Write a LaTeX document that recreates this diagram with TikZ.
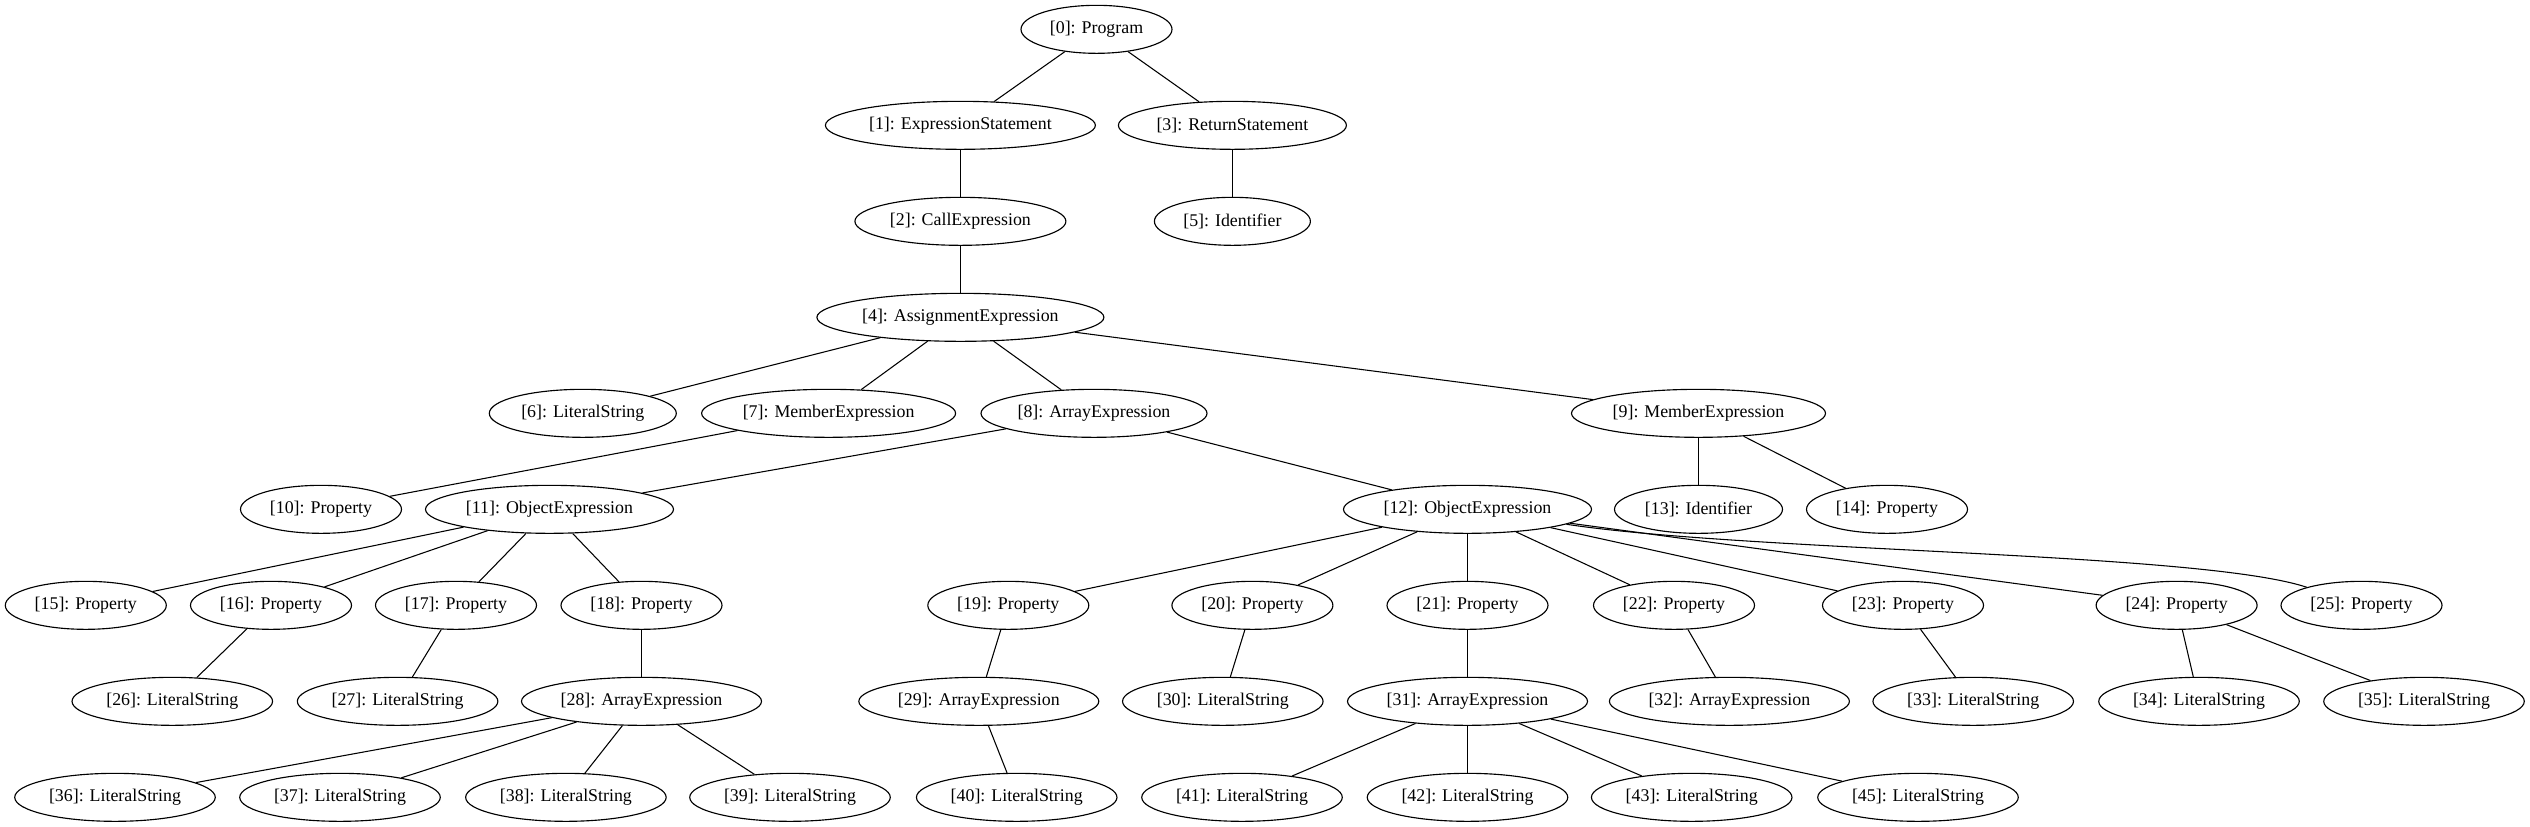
\documentclass[tikz,border=0pt]{standalone}
\usepackage{fontspec}
\setmainfont{Liberation Serif}
\usetikzlibrary{shapes.geometric}
\begin{document}
\begin{tikzpicture}[x=0.75pt,y=-0.75pt,
  nd/.style={ellipse, draw, line width=0.85pt, inner sep=0pt, minimum height=36pt,
             font=\fontsize{13.4}{16}\selectfont},
  prop/.style={nd, minimum width=120.75pt},
  lstwo/.style={nd, minimum width=150.4pt},
  lsone/.style={nd, minimum width=140.25pt},
  aetwo/.style={nd, minimum width=180pt},
  aeone/.style={nd, minimum width=169.5pt},
  oetwo/.style={nd, minimum width=186pt},
  meone/.style={nd, minimum width=190.5pt},
  edge/.style={line width=0.8pt}]
\useasboundingbox (0,0) rectangle (2530,827);
% row 0-3
\node[nd, minimum width=113.25pt] (n0) at (1096.5,29.33) {[0]: Program};
\node[nd, minimum width=202.5pt] (n1) at (960.4,125.33) {[1]: ExpressionStatement};
\node[nd, minimum width=171pt] (n3) at (1232.4,125.33) {[3]: ReturnStatement};
\node[nd, minimum width=158.25pt] (n2) at (960.4,221.33) {[2]: CallExpression};
\node[nd, minimum width=117pt] (n5) at (1232.4,221.33) {[5]: Identifier};
\node[nd, minimum width=215.25pt] (n4) at (960.4,317.33) {[4]: AssignmentExpression};
% row 4
\node[lsone] (n6) at (582.8,413.33) {[6]: LiteralString};
\node[meone] (n7) at (828.6,413.33) {[7]: MemberExpression};
\node[aeone] (n8) at (1094,413.33) {[8]: ArrayExpression};
\node[meone] (n9) at (1698.5,413.33) {[9]: MemberExpression};
% row 5
\node[prop] (n10) at (321,509.33) {[10]: Property};
\node[oetwo] (n11) at (549.5,509.33) {[11]: ObjectExpression};
\node[oetwo] (n12) at (1467.5,509.33) {[12]: ObjectExpression};
\node[nd, minimum width=126pt] (n13) at (1698.5,509.33) {[13]: Identifier};
\node[prop] (n14) at (1887,509.33) {[14]: Property};
% row 6
\node[prop] (n15) at (85.8,605.33) {[15]: Property};
\node[prop] (n16) at (271,605.33) {[16]: Property};
\node[prop] (n17) at (456,605.33) {[17]: Property};
\node[prop] (n18) at (641.5,605.33) {[18]: Property};
\node[prop] (n19) at (1008.3,605.33) {[19]: Property};
\node[prop] (n20) at (1252.4,605.33) {[20]: Property};
\node[prop] (n21) at (1467.5,605.33) {[21]: Property};
\node[prop] (n22) at (1674,605.33) {[22]: Property};
\node[prop] (n23) at (1903,605.33) {[23]: Property};
\node[prop] (n24) at (2176.6,605.33) {[24]: Property};
\node[prop] (n25) at (2361.5,605.33) {[25]: Property};
% row 7
\node[lstwo] (n26) at (172.3,701.33) {[26]: LiteralString};
\node[lstwo] (n27) at (397.6,701.33) {[27]: LiteralString};
\node[aetwo] (n28) at (641.5,701.33) {[28]: ArrayExpression};
\node[aetwo] (n29) at (978.8,701.33) {[29]: ArrayExpression};
\node[lstwo] (n30) at (1222.8,701.33) {[30]: LiteralString};
\node[aetwo] (n31) at (1467.5,701.33) {[31]: ArrayExpression};
\node[aetwo] (n32) at (1729.4,701.33) {[32]: ArrayExpression};
\node[lstwo] (n33) at (1973.2,701.33) {[33]: LiteralString};
\node[lstwo] (n34) at (2199,701.33) {[34]: LiteralString};
\node[lstwo] (n35) at (2424,701.33) {[35]: LiteralString};
% row 8
\node[lstwo] (n36) at (115,797.33) {[36]: LiteralString};
\node[lstwo] (n37) at (340,797.33) {[37]: LiteralString};
\node[lstwo] (n38) at (565.9,797.33) {[38]: LiteralString};
\node[lstwo] (n39) at (790,797.33) {[39]: LiteralString};
\node[lstwo] (n40) at (1016.7,797.33) {[40]: LiteralString};
\node[lstwo] (n41) at (1242,797.33) {[41]: LiteralString};
\node[lstwo] (n42) at (1467.5,797.33) {[42]: LiteralString};
\node[lstwo] (n43) at (1691.7,797.33) {[43]: LiteralString};
\node[lstwo] (n45) at (1918,797.33) {[45]: LiteralString};
% edges
\foreach \a/\b in {0/1,0/3,1/2,3/5,2/4,4/6,4/7,4/8,4/9,7/10,8/11,8/12,9/13,9/14,
  11/15,11/16,11/17,11/18,12/19,12/20,12/21,12/22,12/23,12/24,
  16/26,17/27,18/28,19/29,20/30,21/31,22/32,23/33,24/34,24/35,
  28/36,28/37,28/38,28/39,29/40,31/41,31/42,31/43,31/45}
  \draw[edge] (n\a) -- (n\b);
\draw[edge] (n12) .. controls (1750,552) and (2200,552) .. (n25);
\end{tikzpicture}
\end{document}
